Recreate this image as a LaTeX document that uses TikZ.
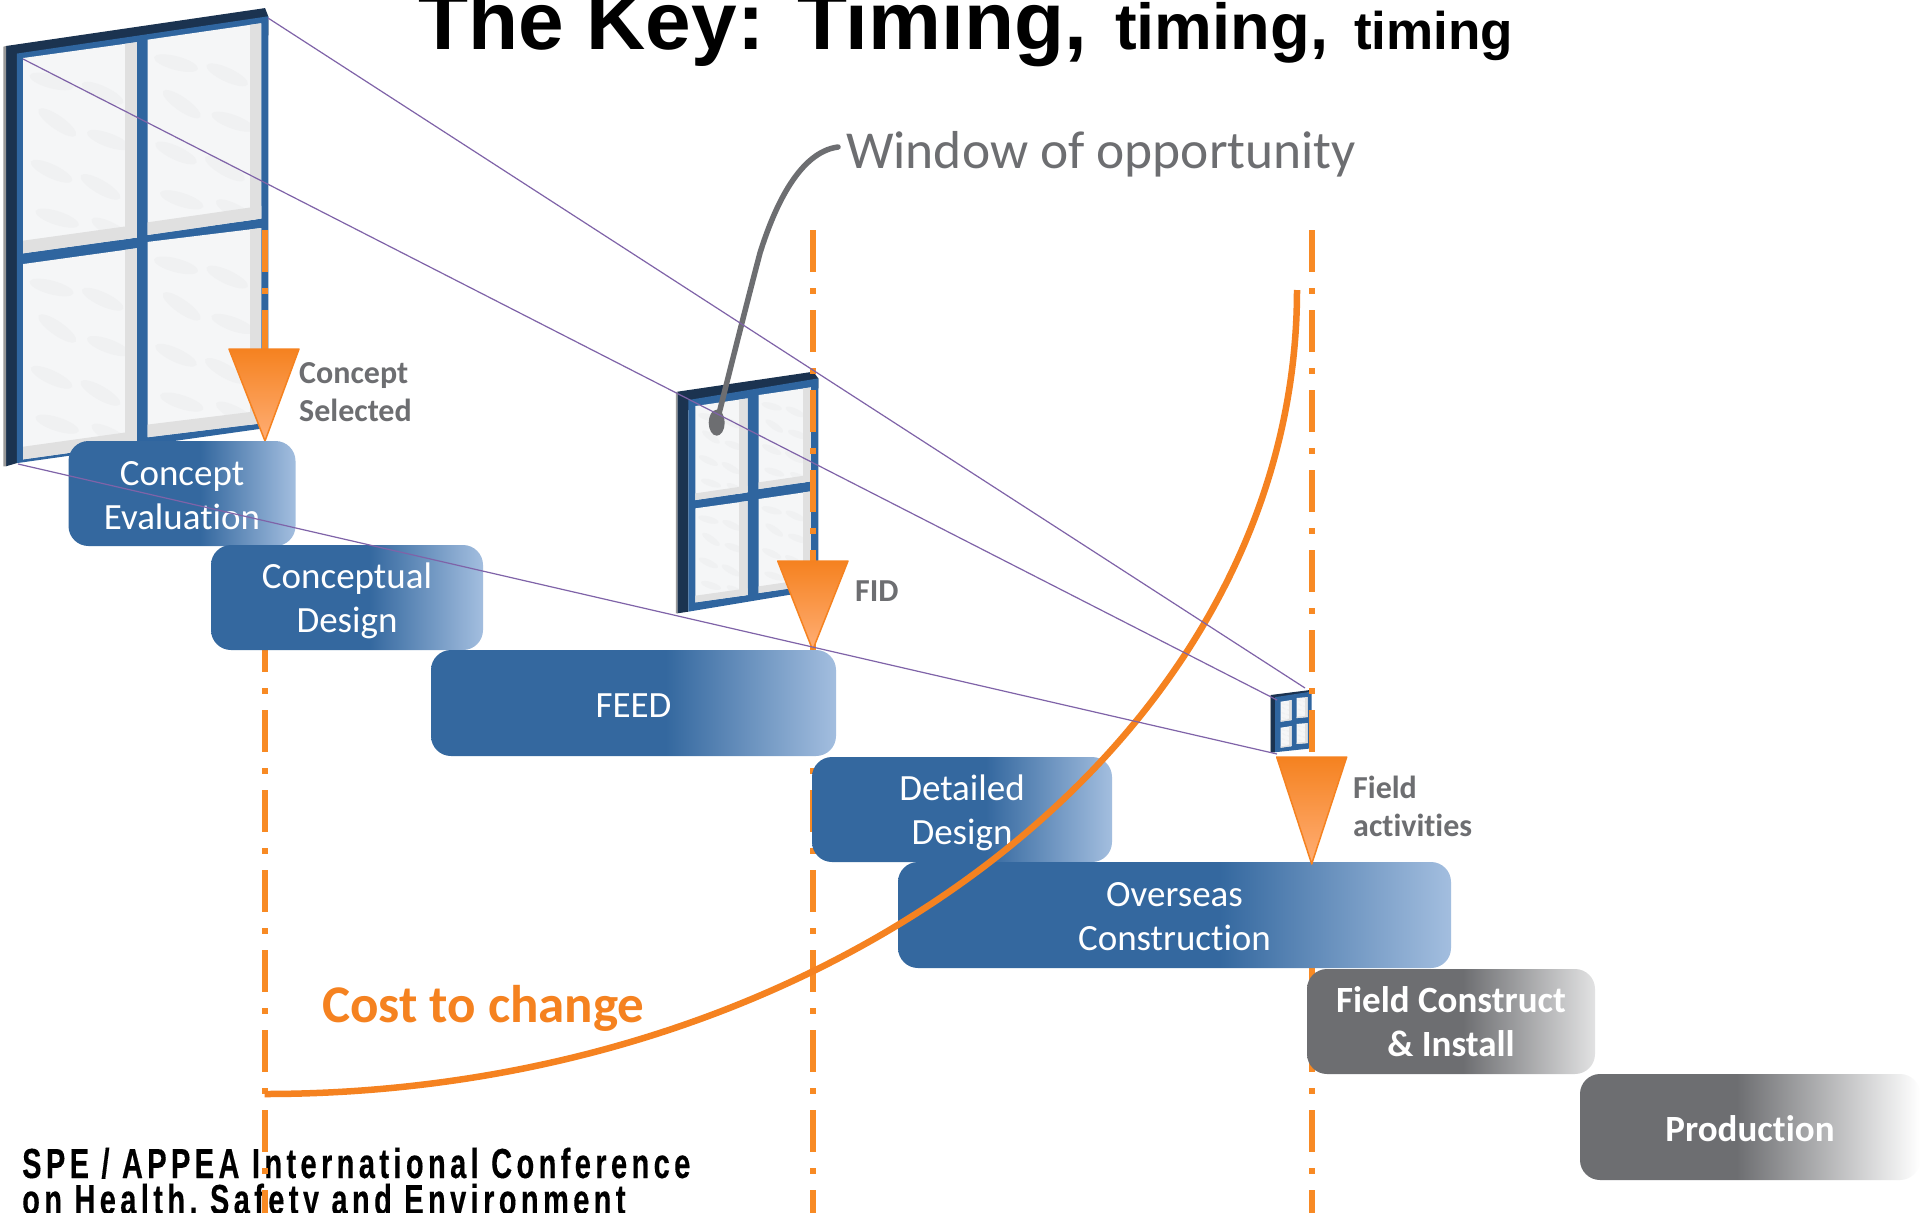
\documentclass[tikz,border=0pt]{standalone}
\usepackage{fontspec}
\setmainfont[Ligatures=NoCommon]{Carlito}
\newfontfamily\arialb[Ligatures=TeX]{Liberation Sans}
\newfontfamily\condb[FakeStretch=0.69,LetterSpace=10.5,FakeBold=0.3]{Liberation Sans}
\usetikzlibrary{shadings}
\definecolor{boxblue}{HTML}{34689F}
\definecolor{boxlight}{HTML}{A3BEDF}
\definecolor{boxgrey}{HTML}{6D6E71}
\definecolor{txtgrey}{HTML}{6D6E71}
\definecolor{orangeA}{HTML}{F58220}
\definecolor{orangeB}{HTML}{FFAE75}
\definecolor{gateorange}{HTML}{F88A24}
\definecolor{viol}{HTML}{7F63A8}
\definecolor{winD}{HTML}{1B3350}
\definecolor{winB}{HTML}{2F659F}
\definecolor{pane}{HTML}{F5F6F7}
\definecolor{paneS}{HTML}{E0E0E0}
\definecolor{paneW}{HTML}{F0F1F2}
\pgfdeclarehorizontalshading{blueshade}{100bp}{color(0bp)=(boxblue); color(54bp)=(boxblue); color(75bp)=(boxlight); color(100bp)=(boxlight)}
\pgfdeclarehorizontalshading{greyshadeA}{100bp}{color(0bp)=(boxgrey); color(52bp)=(boxgrey); color(75bp)=(boxgrey!20); color(100bp)=(boxgrey!20)}
\pgfdeclarehorizontalshading{greyshadeB}{100bp}{color(0bp)=(boxgrey); color(48bp)=(boxgrey); color(75bp)=(white); color(100bp)=(white)}
\newcommand{\lowr}[1]{\rule{0pt}{#1pt}}
\tikzset{
  stage/.style={rounded corners=20pt,inner sep=0pt,outer sep=0pt,anchor=north west,shading=blueshade,shading angle=0,
     text=white,align=center,font=\fontsize{37}{44}\selectfont},
  greyA/.style={stage,shading=greyshadeA,font=\bfseries\fontsize{37}{44}\selectfont},
  greyB/.style={stage,shading=greyshadeB,font=\bfseries\fontsize{37}{44}\selectfont},
  gate/.style={line width=6pt,gateorange,dash pattern=on 42pt off 16pt on 6pt off 16pt},
  sight/.style={line width=1.2pt,viol},
  marker/.style={top color=orangeA,bottom color=orangeB,draw=orangeA,line width=1.5pt,line join=round},
  milelabel/.style={anchor=base west,inner sep=0pt,text=txtgrey,align=left,font=\bfseries\fontsize{32}{38}\selectfont},
}
% #1,#2 top left; #3,#4 top right; #5 height; #6 right strip; #7 bottom strip
\newcommand{\glasspane}[7]{%
  \begin{scope}
    \clip (#1,#2) -- (#3,#4) -- (#3,#4+#5) -- (#1,#2+#5) -- cycle;
    \fill[pane] (#1,#2) -- (#3,#4) -- (#3,#4+#5) -- (#1,#2+#5) -- cycle;
    \foreach \fx/\fy/\rr in {.25/.12/-15,.7/.18/-25,.3/.33/-35,.75/.42/-20,.25/.58/-25,.68/.66/-30,.3/.82/-18,.78/.88/-28}{
      \fill[paneW,rotate around={\rr:(#1+\fx*#3-\fx*#1,#2+\fy*#5)}] (#1+\fx*#3-\fx*#1,#2+\fy*#5) ellipse (0.2*#3-0.2*#1 and 0.035*#5);
    }
    \fill[paneS] (#3-#6,#4) rectangle (#3,#4+#5);
    \fill[paneS] (#1,#2+#5-#7) -- (#3,#4+#5-#7) -- (#3,#4+#5) -- (#1,#2+#5) -- cycle;
  \end{scope}}
% #1 front left x; #2 front top-left y; #3 right x; #4 front top-right y; #5 bottom-right y
\newcommand{\winbody}[5]{%
  \fill[winD] (82,125) -- (490,65) -- (#3,#4) -- (#3,#4+30) -- (#1,#2+30) -- (#1,785) -- (82,790) -- cycle;
  \fill[black!40] (78,126) -- (82,125) -- (82,790) -- (78,790) -- cycle;
  \fill[winB] (#1,#2) -- (#3,#4) -- (#3,#5) -- (#1,785) -- cycle;
}
\begin{document}
\begin{tikzpicture}[x=1pt,y=-1pt]
\useasboundingbox (0,0) rectangle (1920,1213);
\fill[white] (0,0) rectangle (1920,1213);

% title and footer
\node[anchor=base west,inner sep=0pt] (titleA) at (418,49) {\arialb\bfseries\fontsize{82}{82}\selectfont The Key:\kern 0.40em Timing,};
\node[anchor=base west,inner sep=0pt] (titleB) at (1115,49) {\arialb\bfseries\fontsize{65}{65}\selectfont timing,};
\node[anchor=base west,inner sep=0pt] (titleC) at (1354,49) {\arialb\bfseries\fontsize{53}{53}\selectfont timing};
\node[anchor=base west,inner sep=0pt] (footA) at (22,1178) {\condb\bfseries\fontsize{42}{42}\selectfont SPE / APPEA International Conference};
\node[anchor=base west,inner sep=0pt] (footB) at (22,1214) {\condb\bfseries\fontsize{42}{42}\selectfont on Health, Safety and Environment};

% windows
\begin{scope}[shift={(6,46)},x=0.635pt,y=-0.632pt,shift={(-82,-125)}]
  \winbody{99}{137}{495}{78}{729}
  \glasspane{109}{144}{288}{119}{309}{18}{20}
  \glasspane{305}{115}{484}{89}{309}{18}{20}
  \glasspane{109}{470}{288}{445}{309}{18}{20}
  \glasspane{305}{435}{484}{413}{309}{18}{20}
\end{scope}
\begin{scope}[shift={(677.3,391.7)},x=0.3333pt,y=-0.3333pt,shift={(-82,-125)}]
  \winbody{115}{150}{505}{85}{720}
  \glasspane{136}{168}{293}{145}{282}{25}{20}
  \glasspane{326}{135}{483}{112}{282}{25}{20}
  \glasspane{136}{475}{293}{453}{282}{25}{20}
  \glasspane{326}{447}{483}{424}{282}{25}{20}
\end{scope}
\begin{scope}[shift={(1270.7,695)},x=0.1005pt,y=-0.0867pt,shift={(-82,-125)}]
  \winbody{125}{150}{490}{85}{740}
  \glasspane{181}{202}{291}{183}{231}{28}{15}
  \glasspane{341}{160}{450}{148}{231}{28}{15}
  \glasspane{181}{502}{291}{483}{231}{28}{15}
  \glasspane{341}{459}{450}{448}{231}{28}{15}
\end{scope}

% gates
\coordinate (gA0) at (264.7,230); \coordinate (gA1) at (264.7,1213);
\coordinate (gB0) at (812.7,230); \coordinate (gB1) at (812.7,1213);
\coordinate (gC0) at (1311.7,230); \coordinate (gC1) at (1311.7,1213);
\draw[gate] (gA0) -- (gA1);
\draw[gate] (gB0) -- (gB1);
\draw[gate] (gC0) -- (gC1);

% milestones
\draw[marker] (229,349) -- (299,349) -- (265,441) -- cycle;
\draw[marker] (777.7,561) -- (848,561) -- (812.7,650) -- cycle;

% stage bars
\node[stage,minimum width=227pt,minimum height=105pt] (ce) at (68.5,441) {\lowr{28}Concept\\Evaluation};
\node[stage,minimum width=272pt,minimum height=105pt] (cd) at (211,545) {\lowr{32}Conceptual\\Design};
\node[stage,minimum width=405pt,minimum height=106pt] (feed) at (431,650) {\lowr{28}FEED};
\node[stage,minimum width=300pt,minimum height=105pt] (dd) at (812,757) {\lowr{32}Detailed\\Design};
\node[stage,minimum width=553pt,minimum height=106pt] (oc) at (898,862) {\lowr{28}Overseas\\Construction};
\node[greyA,minimum width=288pt,minimum height=105pt] (fci) at (1307,969) {Field Construct\\\& Install};
\node[greyB,minimum width=340pt,minimum height=106pt] (prod) at (1580,1074) {\lowr{29}Production};
\draw[marker] (1276.7,757) -- (1346.7,757) -- (1311.7,864) -- cycle;

% milestone labels
\node[milelabel] (lc) at (299,421) {Concept\\Selected};
\node[milelabel] (lf) at (855,601) {FID};
\node[milelabel] (la) at (1353,836) {Field\\activities};

% cost curve
\coordinate (costA) at (264.5,1094);
\coordinate (costB) at (1297,290);
\draw[orangeA,line width=6.5pt] (costA) .. controls (834.5,1094) and (1297,734) .. (costB);
\node[anchor=base west,inner sep=0pt,text=orangeA,font=\bfseries\fontsize{53}{53}\selectfont] (cost) at (322,1022) {Cost to change};

% callout
\node[anchor=base west,inner sep=0pt,text=txtgrey,font=\fontsize{53.4}{53.4}\selectfont] (win) at (846,168) {Window of opportunity};
\coordinate (calltop) at (838,147);
\coordinate (callmid) at (760,253);
\coordinate (blob) at (716.7,422.7);
\fill[txtgrey] (blob) ellipse (8 and 13);
\draw[txtgrey,line width=5.5pt,line cap=round] (calltop) .. controls (800,152) and (775,205) .. (callmid) .. controls (745,310) and (730,370) .. (blob);

% sight lines
\coordinate (sA0) at (268,18); \coordinate (sA1) at (1305,688);
\coordinate (sB0) at (23,59);  \coordinate (sB1) at (1277,700);
\coordinate (sC0) at (18,464); \coordinate (sC1) at (1277,754);
\draw[sight] (sA0) -- (sA1);
\draw[sight] (sB0) -- (sB1);
\draw[sight] (sC0) -- (sC1);
\end{tikzpicture}
\end{document}
